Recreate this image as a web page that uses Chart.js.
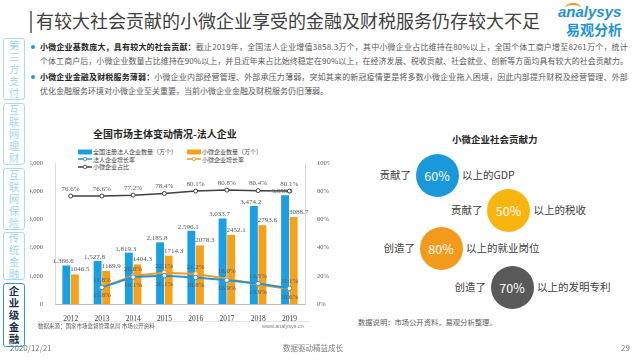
<!DOCTYPE html>
<html><head><meta charset="utf-8">
<script src="https://cdn.jsdelivr.net/npm/chart.js@4.4.0/dist/chart.umd.min.js"></script>
<style>
html,body{margin:0;padding:0;background:#fff;}
body{width:640px;height:360px;position:relative;overflow:hidden;font-family:"Noto Sans CJK SC","Noto Sans",sans-serif;color:#404040;}
.abs{position:absolute;white-space:nowrap;}
.tab{position:absolute;left:3px;width:22px;border:1px solid #a9dbf3;border-radius:3px;box-sizing:border-box;color:#9fd6f2;}
.tab .ch{position:absolute;left:0;width:100%;height:12px;font-size:10.5px;line-height:12px;text-align:center;overflow:visible;}
.tab.active{border:1.5px solid #2b9ad8;color:#1b2f4d;font-weight:bold;}
.bl{position:absolute;left:40px;font-size:8px;line-height:10px;color:#595959;white-space:nowrap;}
.bl b{color:#262626;}
.dot{position:absolute;left:31px;width:4px;height:4px;border-radius:50%;background:#1a9be0;}
.circ{position:absolute;width:43px;height:43px;border-radius:50%;color:#fff;font-size:12.5px;display:flex;align-items:center;justify-content:center;}
.ct{position:absolute;font-size:10.5px;line-height:12px;color:#404040;white-space:nowrap;}
.lg{position:absolute;font-size:6px;line-height:7px;color:#404040;white-space:nowrap;display:flex;align-items:center;}
</style></head><body>

<!-- title -->
<div class="abs" style="left:30px;top:11px;width:2px;height:22px;background:#7f7f7f;"></div>
<div class="abs" style="left:36px;top:7px;font-size:18px;line-height:26px;color:#404040;">有较大社会贡献的小微企业享受的金融及财税服务仍存较大不足</div>
<div class="abs" style="left:558px;top:3px;font-size:15px;line-height:18px;color:#1f93d6;font-style:italic;font-family:'Liberation Sans',sans-serif;font-weight:bold;">analysys</div>
<div class="abs" style="left:565px;top:3px;width:16px;height:8px;border-top:2px solid #f39a1e;border-radius:50% 50% 0 0;"></div>
<div class="abs" style="left:566px;top:21px;font-size:14px;line-height:16px;color:#1f93d6;font-weight:bold;">易观分析</div>

<!-- sidebar -->
<div id="tabs"></div>

<!-- bullets -->
<div class="dot" style="top:45px;"></div>
<div class="bl fit" style="top:42px;"><b>小微企业基数庞大，具有较大的社会贡献：</b>截止2019年，全国法人企业增值3858.3万个，其中小微企业占比维持在80%以上，全国个体工商户增至8261万个，统计</div>
<div class="bl fit" style="top:56px;">个体工商户后，小微企业数量占比维持在90%以上，并且近年来占比始终稳定在90%以上，在经济发展、税收贡献、社会就业、创新等方面均具有较大的社会贡献力。</div>
<div class="dot" style="top:75px;"></div>
<div class="bl fit" style="top:72px;"><b>小微企业金融及财税服务薄弱：</b>小微企业内部经营管理、外部承压力薄弱，突如其来的新冠疫情更是将多数小微企业拖入困境，因此内部提升财税及经营管理、外部</div>
<div class="bl" style="top:86px;">优化金融服务环境对小微企业至关重要，当前小微企业金融及财税服务仍旧薄弱。</div>

<!-- chart title + legend -->
<div class="abs" style="left:93px;top:127px;font-size:10px;line-height:13px;font-weight:bold;color:#262626;">全国市场主体变动情况-法人企业</div>
<div id="legend"></div>
<div class="abs" style="left:30px;top:150px;width:300px;height:175px;"><canvas id="c" width="300" height="175"></canvas></div>
<div class="abs" style="left:38px;top:321px;width:272px;height:1px;background:#e6e6e6;"></div>
<div class="abs" style="left:38px;top:323px;font-size:5.5px;line-height:7px;color:#595959;">数据来源：国家市场监督管理总局 市场公开资料</div>
<div class="abs" style="left:262px;top:323px;font-size:5.5px;line-height:7px;color:#7f7f7f;font-family:'Liberation Sans',sans-serif;">www.analysys.cn</div>

<!-- right infographic -->
<div class="abs" style="left:452px;top:133px;font-size:9.5px;line-height:13px;font-weight:bold;color:#262626;">小微企业社会贡献力</div>
<div id="info"></div>
<div class="abs" style="left:358px;top:318px;font-size:7.3px;line-height:9px;color:#595959;">数据说明：市场公开资料，易观分析整理。</div>

<!-- footer -->
<div class="abs" style="left:10px;top:343px;font-size:8px;line-height:10px;color:#7f7f7f;">2020/12/21</div>
<div class="abs" style="left:283px;top:343px;font-size:7.5px;line-height:10px;color:#7f7f7f;">数据驱动精益成长</div>
<div class="abs" style="left:621px;top:343px;font-size:8px;line-height:10px;color:#7f7f7f;">29</div>

<script>
// ---- chart data ----
const years = ['2012','2013','2014','2015','2016','2017','2018','2019'];
const legalEntities = [1366.6,1527.8,1819.3,2185.8,2596.1,3033.7,3474.2,3858.3];
const smallMicro = [1046.5,1169.9,1404.3,1714.3,2078.3,2452.1,2793.6,3088.7];
const legalGrowth = [null,11.8,19.1,20.1,18.8,16.9,14.5,11.1];
const smallGrowth = [null,11.8,20.0,22.1,21.2,18.0,13.9,10.6];
const smallShare = [76.6,76.6,77.2,78.4,80.1,80.8,80.4,80.1];
const seriesNames = ['全国注册法人企业数量（万个）','小微企业数量（万个）','法人企业增长率','小微企业增长率','小微企业占比'];
const leftMax = 5000, leftStep = 1000, rightMax = 100, rightStep = 20;

// ---- infographic data ----
const infoVerbs = ['贡献了','贡献了','创造了','创造了'];
const infoPercents = ['60%','50%','80%','70%'];
const infoObjects = ['以上的GDP','以上的税收','以上的就业岗位','以上的发明专利'];

// ---- sidebar tabs ----
const tabNames = ['第三方支付','互联网理财','互联网保险','传统金融','企业级金融'];
const tabBoxes = [[38,62],[103,62],[168,62],[232,48],[283,64]];
const activeTab = 4;

const C_BLUE='#1a9fe3', C_ORANGE='#f7a11a', C_LBLUE='#2a92d2', C_LORANGE='#f39a1e', C_GREY='#404040';
const numFont = "'Liberation Serif','Noto Sans CJK SC',serif";

const tabs = document.getElementById('tabs');
tabNames.forEach((t,i)=>{
  const [top,h] = tabBoxes[i];
  const d = document.createElement('div'); d.className='tab'+(i===activeTab?' active':'');
  d.style.top=top+'px'; d.style.height=h+'px';
  const chars = [...t];
  const step = 12, start = (h - 2 - chars.length*step)/2;
  chars.forEach((c,k)=>{
    const s = document.createElement('div'); s.className='ch'; s.textContent=c;
    s.style.top=(start+k*step)+'px'; d.appendChild(s);
  });
  tabs.appendChild(d);
});

// fit justified bullet lines
document.querySelectorAll('.fit').forEach(el=>{
  const target = 588;
  const n = el.textContent.length;
  const w = el.getBoundingClientRect().width;
  el.style.letterSpacing = ((target - w)/n).toFixed(3)+'px';
});

// infographic
const infoPos = [[437,175.5,'#1a98dc'],[508.5,210.5,'#f8b40f'],[441,248.5,'#f39a1d'],[512,287.5,'#595959']];
const info = document.getElementById('info');
infoPercents.forEach((p,i)=>{
  const [cx,cy,col] = infoPos[i];
  const c = document.createElement('div'); c.className='circ';
  c.style.left=(cx-21.5)+'px'; c.style.top=(cy-21.5)+'px'; c.style.background=col; c.textContent=p;
  info.appendChild(c);
  const v = document.createElement('div'); v.className='ct'; v.textContent=infoVerbs[i];
  v.style.right=(640-(cx-26))+'px'; v.style.top=(cy-6.5)+'px'; info.appendChild(v);
  const o = document.createElement('div'); o.className='ct'; o.textContent=infoObjects[i];
  o.style.left=(cx+25)+'px'; o.style.top=(cy-6.5)+'px'; info.appendChild(o);
});

const fmtComma = v => v.toLocaleString('en-US',{minimumFractionDigits:1,maximumFractionDigits:1});

const labelPlugin = {
  id:'labels',
  afterDatasetsDraw(chart){
    const ctx = chart.ctx;
    ctx.save();
    ctx.textAlign='center'; ctx.textBaseline='middle';
    ctx.font = '7px '+numFont;
    ctx.fillStyle = '#595959';
    const m0 = chart.getDatasetMeta(0), m1 = chart.getDatasetMeta(1);
    m0.data.forEach((el,i)=>{ ctx.fillText(fmtComma(legalEntities[i]), el.x-3, el.y-4); });
    m1.data.forEach((el,i)=>{ ctx.fillText(smallMicro[i].toFixed(1), el.x+5, el.y-5); });
    const m2 = chart.getDatasetMeta(2), m3 = chart.getDatasetMeta(3), m4 = chart.getDatasetMeta(4);
    years.forEach((y,i)=>{
      if (legalGrowth[i]==null) return;
      const a = legalGrowth[i], b = smallGrowth[i];
      const e2 = m2.data[i], e3 = m3.data[i];
      const legalAbove = a > b;
      ctx.fillText(a.toFixed(1)+'%', e2.x, legalAbove ? e2.y-7 : e2.y+8);
      ctx.fillText(b.toFixed(1)+'%', e3.x, legalAbove ? e3.y+8 : e3.y-7);
    });
    m4.data.forEach((el,i)=>{ ctx.fillText(smallShare[i].toFixed(1)+'%', el.x, el.y-7); });
    ctx.restore();
  }
};

const tickFont = {size:6.5, family:numFont};
const chart = new Chart(document.getElementById('c'), {
  data:{
    labels: years,
    datasets:[
      {type:'bar', label:seriesNames[0], data:legalEntities, backgroundColor:C_BLUE, yAxisID:'y', order:5, categoryPercentage:0.55, barPercentage:0.92},
      {type:'bar', label:seriesNames[1], data:smallMicro, backgroundColor:C_ORANGE, yAxisID:'y', order:5, categoryPercentage:0.55, barPercentage:0.92},
      {type:'line', label:seriesNames[2], data:legalGrowth, borderColor:C_LBLUE, borderWidth:2, pointRadius:2.3, pointBackgroundColor:'#fff', pointBorderColor:C_LBLUE, pointBorderWidth:1, yAxisID:'y1', order:2, tension:0},
      {type:'line', label:seriesNames[3], data:smallGrowth, borderColor:C_LORANGE, borderWidth:2, pointRadius:2.3, pointBackgroundColor:'#fff', pointBorderColor:C_LORANGE, pointBorderWidth:1, yAxisID:'y1', order:3, tension:0},
      {type:'line', label:seriesNames[4], data:smallShare, borderColor:C_GREY, borderWidth:1.5, pointRadius:2, pointBackgroundColor:'#fff', pointBorderColor:C_GREY, pointBorderWidth:1, yAxisID:'y1', order:1, tension:0}
    ]
  },
  options:{
    responsive:false, animation:false, devicePixelRatio:1,
    layout:{padding:{top:13,left:0,right:0,bottom:0}},
    plugins:{legend:{display:false}, tooltip:{enabled:false}},
    scales:{
      x:{grid:{display:false}, border:{color:'#bfbfbf'}, ticks:{font:{size:7.5,family:numFont}, color:'#404040', padding:3, maxRotation:0}, afterFit(s){s.height=21;}},
      y:{position:'left', min:0, max:leftMax, ticks:{stepSize:leftStep, callback:v=>v.toLocaleString('en-US'), font:tickFont, color:'#595959', padding:4}, grid:{display:false}, border:{color:'#d9d9d9'}, afterFit(s){s.width=25;}},
      y1:{position:'right', min:0, max:rightMax, ticks:{stepSize:rightStep, callback:v=>v+'%', font:tickFont, color:'#595959', padding:4}, grid:{display:false}, border:{color:'#d9d9d9'}, afterFit(s){s.width=25;}}
    }
  },
  plugins:[labelPlugin]
});

// html legend built from datasets
const lg = document.getElementById('legend');
const lpos = [[78,148],[187,148],[78,155.5],[187,155.5],[78,163]];
chart.data.datasets.forEach((ds,i)=>{
  const d = document.createElement('div'); d.className='lg';
  d.style.left=lpos[i][0]+'px'; d.style.top=lpos[i][1]+'px';
  const col = ds.type==='bar' ? ds.backgroundColor : ds.borderColor;
  let icon;
  if (ds.type==='bar') icon = `<svg width="14" height="6"><rect x="0" y="0.5" width="14" height="5" fill="${col}"/></svg>`;
  else icon = `<svg width="14" height="6"><line x1="0" y1="3" x2="14" y2="3" stroke="${col}" stroke-width="1.5"/><circle cx="7" cy="3" r="1.8" fill="#fff" stroke="${col}" stroke-width="0.8"/></svg>`;
  d.innerHTML = icon + '<span style="margin-left:1px">'+ds.label+'</span>';
  lg.appendChild(d);
});
</script>
</body></html>
